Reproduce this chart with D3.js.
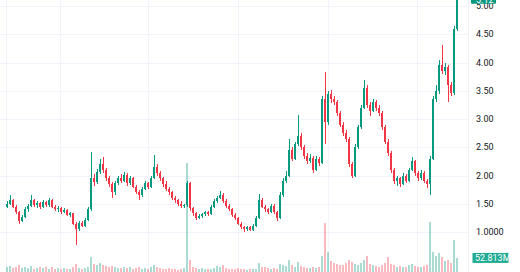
<!DOCTYPE html>
<html>
<head>
<meta charset="utf-8">
<script src="https://cdnjs.cloudflare.com/ajax/libs/d3/7.8.5/d3.min.js"></script>
<style>
body{margin:0;background:#fff;overflow:hidden;}
text{font-family:Roboto,"Liberation Sans",sans-serif;}
</style>
</head>
<body>
<script>
// DATA (one candle per day)
var opens = [
1.45,1.50,1.56,1.45,1.35,1.20,1.26,1.40,1.46,1.56,
1.48,1.51,1.44,1.53,1.47,1.56,1.45,1.40,1.43,1.35,
1.39,1.30,1.33,1.15,1.05,1.16,1.11,1.21,1.40,1.96,
1.88,2.06,2.21,2.10,1.95,1.85,1.70,1.86,1.96,1.90,
2.01,1.86,1.95,1.80,1.71,1.65,1.76,1.86,1.80,1.96,
2.15,2.05,1.95,1.85,1.76,1.70,1.60,1.56,1.50,1.46,
1.47,1.86,1.42,1.33,1.25,1.28,1.31,1.35,1.32,1.45,
1.55,1.60,1.66,1.55,1.46,1.41,1.30,1.25,1.15,1.08,
1.05,1.08,1.04,1.11,1.25,1.56,1.45,1.40,1.35,1.46,
1.35,1.25,1.65,1.90,2.00,2.45,2.30,2.55,2.70,2.50,
2.35,2.25,2.31,2.10,2.30,2.22,3.35,2.95,3.45,3.35,
3.30,3.10,2.90,2.75,2.65,2.20,2.00,2.50,2.85,3.20,
3.55,3.25,3.15,3.30,3.20,3.10,2.85,2.60,2.40,2.10,
1.90,1.95,1.85,2.00,1.90,2.10,2.25,2.05,1.95,2.05,
1.90,1.85,2.30,3.35,3.50,3.95,3.85,3.92,3.60,3.46,
4.60];
var highs = [
1.55,1.65,1.58,1.48,1.38,1.30,1.45,1.50,1.65,1.58,
1.54,1.53,1.56,1.55,1.60,1.58,1.48,1.46,1.45,1.42,
1.41,1.36,1.34,1.18,1.20,1.19,1.24,1.45,2.42,2.02,
2.12,2.30,2.33,2.14,1.99,1.88,1.90,2.00,2.02,2.06,
2.04,2.00,1.98,1.83,1.74,1.80,1.90,1.88,2.00,2.36,
2.20,2.08,1.98,1.90,1.80,1.73,1.64,1.58,1.54,1.50,
1.90,1.88,1.44,1.35,1.31,1.33,1.38,1.37,1.48,1.58,
1.63,1.72,1.69,1.58,1.50,1.43,1.33,1.27,1.18,1.10,
1.11,1.10,1.14,1.28,1.68,1.60,1.48,1.43,1.50,1.49,
1.37,1.70,1.95,2.08,2.65,2.50,2.60,3.07,2.75,2.54,
2.40,2.38,2.34,2.35,2.33,3.40,3.83,3.50,3.52,3.40,
3.34,3.14,2.95,2.80,2.68,2.24,2.55,2.90,3.25,3.69,
3.60,3.30,3.35,3.34,3.25,3.14,2.90,2.65,2.44,2.14,
2.00,1.98,2.05,2.03,2.14,2.33,2.28,2.08,2.10,2.08,
1.93,2.35,3.40,3.60,4.05,4.31,4.00,3.95,3.66,4.65,
5.25];
var lows = [
1.42,1.48,1.42,1.32,1.15,1.18,1.24,1.36,1.44,1.44,
1.42,1.40,1.42,1.44,1.45,1.42,1.37,1.36,1.32,1.33,
1.28,1.27,1.12,0.77,1.02,1.08,1.09,1.19,1.38,1.82,
1.85,2.02,2.05,1.90,1.80,1.60,1.66,1.83,1.86,1.88,
1.82,1.84,1.77,1.67,1.57,1.62,1.74,1.76,1.78,1.94,
2.00,1.90,1.80,1.72,1.66,1.57,1.52,1.46,1.43,1.43,
1.45,1.38,1.29,1.22,1.23,1.25,1.29,1.28,1.30,1.42,
1.52,1.58,1.52,1.42,1.37,1.27,1.21,1.12,1.05,1.00,
1.02,1.01,1.02,1.09,1.23,1.42,1.36,1.31,1.33,1.32,
1.20,1.23,1.62,1.86,1.98,2.25,2.28,2.52,2.45,2.30,
2.20,2.22,2.05,2.08,2.16,2.20,2.55,2.90,3.28,3.24,
3.05,2.85,2.70,2.60,2.15,1.95,1.98,2.47,2.82,3.18,
3.20,3.05,3.12,3.15,3.05,2.80,2.55,2.35,2.05,1.85,
1.82,1.80,1.83,1.86,1.88,2.08,2.00,1.90,1.92,1.86,
1.78,1.65,2.28,3.30,3.45,3.80,3.78,3.30,3.40,3.42,
4.55];
var closes = [
1.50,1.56,1.45,1.35,1.20,1.26,1.40,1.46,1.56,1.48,
1.51,1.44,1.53,1.47,1.56,1.45,1.40,1.43,1.35,1.39,
1.30,1.33,1.15,1.05,1.16,1.11,1.21,1.40,1.96,1.88,
2.06,2.21,2.10,1.95,1.85,1.70,1.86,1.96,1.90,2.01,
1.86,1.95,1.80,1.71,1.65,1.76,1.86,1.80,1.96,2.15,
2.05,1.95,1.85,1.76,1.70,1.60,1.56,1.50,1.46,1.47,
1.86,1.42,1.33,1.25,1.28,1.31,1.35,1.32,1.45,1.55,
1.60,1.66,1.55,1.46,1.41,1.30,1.25,1.15,1.08,1.05,
1.08,1.04,1.11,1.25,1.56,1.45,1.40,1.35,1.46,1.35,
1.25,1.65,1.90,2.00,2.45,2.30,2.55,2.70,2.50,2.35,
2.25,2.31,2.10,2.30,2.22,3.35,2.95,3.45,3.35,3.30,
3.10,2.90,2.75,2.65,2.20,2.00,2.50,2.85,3.20,3.55,
3.25,3.15,3.30,3.20,3.10,2.85,2.60,2.40,2.10,1.90,
1.95,1.85,2.00,1.90,2.10,2.25,2.05,1.95,2.05,1.90,
1.85,2.30,3.35,3.50,3.95,3.85,3.92,3.60,3.46,4.60,
5.12];
// volume in millions
var volumes = [
18,22,15,20,25,14,19,16,22,12,
15,18,14,20,13,17,12,15,11,14,
10,13,18,30,16,12,14,20,55,30,
25,35,28,22,20,24,18,16,15,20,
14,17,12,15,18,13,16,12,19,28,
20,15,13,11,14,10,12,9,11,14,
410,45,20,15,12,14,10,12,11,16,
22,18,25,15,13,12,11,14,10,12,
9,11,10,13,35,18,20,14,12,15,
11,30,28,22,45,25,20,38,24,18,
16,15,20,14,18,60,184,75,40,35,
30,28,25,32,45,38,30,28,35,45,
60,30,25,22,20,28,35,55,30,25,
20,22,18,20,25,30,22,18,20,22,
25,188,75,60,70,55,40,45,35,120,
52.813];
var priceTicks = [1.0, 1.5, 2.0, 2.5, 3.0, 3.5, 4.0, 4.5, 5.0];
var priceTickLabels = ["1.0000","1.50","2.00","2.50","3.00","3.50","4.00","4.50","5.00"];
var gridDays = [-0.3, 17.5, 47, 77, 107, 136.5];
var lastPriceLabel = "5.12";
var lastVolumeLabel = "52.813M";

var candles = opens.map(function(o,i){
    return {i:i, o:o, h:highs[i], l:lows[i], c:closes[i], v:volumes[i], up:closes[i] >= o};
});

var width = 520, height = 272;
var plotRight = 468;
var upColour = "#089981", downColour = "#f23645";

var x = d3.scaleLinear().domain([0, candles.length-1]).range([7, 457]);
var y = d3.scaleLinear().domain([1.0, 5.0]).range([232, 6]);
var yVol = d3.scaleLinear().domain([0, 420]).range([272, 160]);

var svg = d3.select("body").append("svg")
    .attr("width", width).attr("height", height)
    .attr("viewBox", "0,0," + width + "," + height);

//GRID
var grid = svg.append("g").attr("shape-rendering", "crispEdges");
grid.selectAll("line.h").data(priceTicks).enter().append("line")
    .attr("class","h")
    .attr("x1", 0).attr("x2", plotRight)
    .attr("y1", function(d){return Math.round(y(d)) + 0.5;})
    .attr("y2", function(d){return Math.round(y(d)) + 0.5;})
    .attr("stroke", "#f0f3fa");
grid.selectAll("line.v").data(gridDays).enter().append("line")
    .attr("class","v")
    .attr("x1", function(d){return Math.round(x(d)) + 0.5;})
    .attr("x2", function(d){return Math.round(x(d)) + 0.5;})
    .attr("y1", 0).attr("y2", height)
    .attr("stroke", "#f0f3fa");
grid.append("line")
    .attr("x1", plotRight + 0.5).attr("x2", plotRight + 0.5)
    .attr("y1", 0).attr("y2", height)
    .attr("stroke", "#eef0f4");

//VOLUME BARS
svg.append("g").attr("shape-rendering", "crispEdges")
    .selectAll("rect").data(candles).enter().append("rect")
    .attr("x", function(d){return Math.round(x(d.i)) - 1;})
    .attr("width", 2)
    .attr("y", function(d){return yVol(d.v);})
    .attr("height", function(d){return yVol(0) - yVol(d.v);})
    .attr("fill", function(d){return d.up ? upColour : downColour;})
    .attr("fill-opacity", 0.35);

//CANDLES
var cg = svg.append("g").attr("shape-rendering", "crispEdges");
var candle = cg.selectAll("g").data(candles).enter().append("g")
    .attr("fill", function(d){return d.up ? upColour : downColour;});
candle.append("rect")
    .attr("x", function(d){return Math.round(x(d.i));})
    .attr("width", 1)
    .attr("y", function(d){return y(d.h);})
    .attr("height", function(d){return Math.max(1, y(d.l) - y(d.h));});
candle.append("rect")
    .attr("x", function(d){return Math.round(x(d.i)) - 1;})
    .attr("width", 2)
    .attr("y", function(d){return y(Math.max(d.o, d.c));})
    .attr("height", function(d){return Math.max(1, Math.abs(y(d.o) - y(d.c)));});

//PRICE AXIS
svg.append("rect").attr("x", plotRight + 1).attr("y", 0)
    .attr("width", width - plotRight - 1).attr("height", height).attr("fill", "#fff");
svg.append("g").selectAll("text").data(priceTicks).enter().append("text")
    .attr("x", 476)
    .attr("y", function(d){return y(d) + 3.2;})
    .attr("font-size", "9px")
    .attr("fill", "#131722")
    .text(function(d,i){return priceTickLabels[i];});

// last price label (sits partly above the top edge, as in the screenshot)
var last = candles[candles.length-1];
svg.append("rect")
    .attr("x", 471).attr("y", y(last.c) - 10)
    .attr("width", 25).attr("height", 14.5)
    .attr("rx", 1)
    .attr("fill", upColour);
svg.append("text")
    .attr("x", 476).attr("y", y(last.c) + 3.3)
    .attr("font-size", "9px").attr("fill", "#fff")
    .text(lastPriceLabel);

// last volume label
svg.append("rect")
    .attr("x", 472.5).attr("y", yVol(last.v) - 5)
    .attr("width", 36).attr("height", 10)
    .attr("fill", "#22ab94");
svg.append("text")
    .attr("x", 475).attr("y", yVol(last.v) + 3.3)
    .attr("font-size", "9px").attr("fill", "#fff")
    .text(lastVolumeLabel);
</script>
</body>
</html>
